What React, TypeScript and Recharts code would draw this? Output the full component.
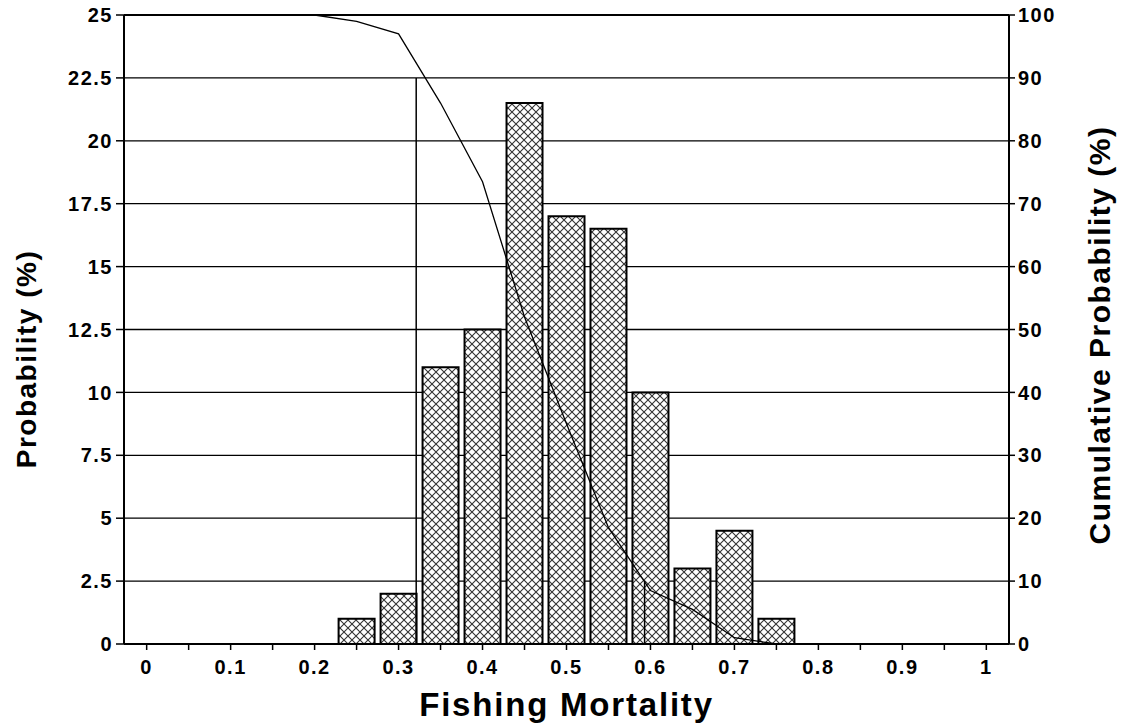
import React from "react";
import {
  ComposedChart,
  Bar,
  Line,
  XAxis,
  YAxis,
  CartesianGrid,
  ReferenceLine,
} from "recharts";

// ---- data ----
const fishingMortality = [
  0, 0.05, 0.1, 0.15, 0.2, 0.25, 0.3, 0.35, 0.4, 0.45, 0.5, 0.55, 0.6, 0.65,
  0.7, 0.75, 0.8, 0.85, 0.9, 0.95, 1.0,
];
const probability: (number | null)[] = [
  null, null, null, null, null, 1, 2, 11, 12.5, 21.5, 17, 16.5, 10, 3, 4.5, 1,
  null, null, null, null, null,
];
const cumulativeProbability = [
  100, 100, 100, 100, 100, 99, 97, 86, 73.5, 52, 35, 18.5, 8.5, 5.5, 1, 0, 0,
  0, 0, 0, 0,
];
// percentile marker lines (x position, height on the probability axis)
const markerX = [0.321, 0.593];
const markerHeight = [22.5, 2.5];

const xTicks = [
  0, 0.05, 0.1, 0.15, 0.2, 0.25, 0.3, 0.35, 0.4, 0.45, 0.5, 0.55, 0.6, 0.65,
  0.7, 0.75, 0.8, 0.85, 0.9, 0.95, 1.0,
];
const leftTicks = [0, 2.5, 5, 7.5, 10, 12.5, 15, 17.5, 20, 22.5, 25];
const rightTicks = [0, 10, 20, 30, 40, 50, 60, 70, 80, 90, 100];

const xTitle = "Fishing Mortality";
const leftTitle = "Probability (%)";
const rightTitle = "Cumulative Probability (%)";

// ---- layout ----
const W = 1111;
const H = 716;
const FONT = "'Liberation Sans', Arial, Helvetica, sans-serif";

const tickStyle = {
  fill: "#000",
  fontSize: 20,
  fontWeight: 700,
  fontFamily: FONT,
  letterSpacing: 1.5,
};

const fmtX = (v: number) => {
  const k = Math.round(v * 100);
  if (k % 10 !== 0) return "";
  return String(+(v.toFixed(1)));
};

const XTitle = (props: any) => {
  const vb = props.viewBox || {};
  return (
    <text
      x={vb.x + vb.width / 2}
      y={vb.y + 72}
      textAnchor="middle"
      fontFamily={FONT}
      fontWeight={700}
      fontSize={33}
      letterSpacing={1.8}
      fill="#000"
    >
      {xTitle}
    </text>
  );
};

const LeftTitle = (props: any) => {
  const vb = props.viewBox || {};
  const cx = vb.x + 18;
  const cy = 351;
  return (
    <text
      x={cx}
      y={cy}
      transform={`rotate(-90 ${cx} ${cy})`}
      textAnchor="middle"
      dominantBaseline="central"
      fontFamily={FONT}
      fontWeight={700}
      fontSize={28}
      letterSpacing={1.5}
      fill="#000"
    >
      {leftTitle}
    </text>
  );
};

const RightTitle = (props: any) => {
  const vb = props.viewBox || {};
  const cx = vb.x + 90;
  const cy = 327;
  return (
    <text
      x={cx}
      y={cy}
      transform={`rotate(-90 ${cx} ${cy})`}
      textAnchor="middle"
      dominantBaseline="central"
      fontFamily={FONT}
      fontWeight={700}
      fontSize={30}
      letterSpacing={1.5}
      fill="#000"
    >
      {rightTitle}
    </text>
  );
};

export default function App() {
  const data = fishingMortality.map((x, i) => ({
    x,
    prob: probability[i],
    cum: cumulativeProbability[i],
  }));

  return (
    <div style={{ width: W, height: H, background: "#fff" }}>
      <style>{`.recharts-surface { overflow: visible; }`}</style>
      <ComposedChart
        width={W}
        height={H}
        data={data}
        margin={{ top: 7, right: 0, bottom: 0, left: 0 }}
      >
        <defs>
          <pattern
            id="hatch"
            patternUnits="userSpaceOnUse"
            width={8}
            height={8}
          >
            <rect width={8} height={8} fill="#fff" />
            <path
              d="M-2,-2 L10,10 M10,-2 L-2,10"
              stroke="#333"
              strokeWidth={1.1}
            />
          </pattern>
        </defs>
        <CartesianGrid
          yAxisId="left"
          vertical={false}
          stroke="#000"
          strokeWidth={1.3}
        />
        <XAxis
          type="number"
          dataKey="x"
          domain={[-0.027, 1.027]}
          ticks={xTicks}
          tickFormatter={fmtX}
          interval={0}
          allowDataOverflow
          height={80}
          tickSize={6}
          tickMargin={10}
          axisLine={{ stroke: "#000", strokeWidth: 2 }}
          tickLine={{ stroke: "#000", strokeWidth: 1.5 }}
          tick={tickStyle}
          label={<XTitle />}
        />
        <YAxis
          yAxisId="left"
          domain={[0, 25]}
          ticks={leftTicks}
          interval={0}
          width={116}
          tickSize={8}
          tickMargin={3}
          axisLine={{ stroke: "#000", strokeWidth: 2 }}
          tickLine={{ stroke: "#000", strokeWidth: 1.5 }}
          tick={tickStyle}
          label={<LeftTitle />}
        />
        <YAxis
          yAxisId="right"
          orientation="right"
          domain={[0, 100]}
          ticks={rightTicks}
          interval={0}
          width={110}
          tickSize={6}
          tickMargin={3}
          axisLine={{ stroke: "#000", strokeWidth: 2 }}
          tickLine={{ stroke: "#000", strokeWidth: 1.5 }}
          tick={tickStyle}
          label={<RightTitle />}
        />
        <ReferenceLine yAxisId="left" y={25} stroke="#000" strokeWidth={2} />
        <Bar
          yAxisId="left"
          dataKey="prob"
          fill="url(#hatch)"
          stroke="#000"
          strokeWidth={2}
          barSize={36}
          isAnimationActive={false}
        />
        <Line
          yAxisId="right"
          type="linear"
          dataKey="cum"
          stroke="#000"
          strokeWidth={1.3}
          dot={false}
          activeDot={false}
          isAnimationActive={false}
        />
        {markerX.map((mx, i) => (
          <ReferenceLine
            key={i}
            yAxisId="left"
            segment={[
              { x: mx, y: 0 },
              { x: mx, y: markerHeight[i] },
            ]}
            stroke="#000"
            strokeWidth={1.5}
          />
        ))}
      </ComposedChart>
    </div>
  );
}
